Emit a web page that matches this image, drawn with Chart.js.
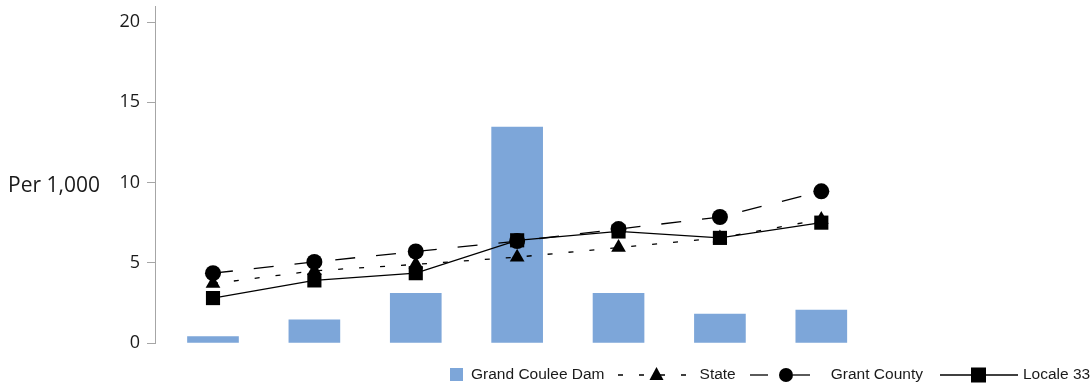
<!DOCTYPE html>
<html><head><meta charset="utf-8">
<script src="https://cdn.jsdelivr.net/npm/chart.js@4.4.1/dist/chart.umd.min.js"></script>
<style>
html,body{margin:0;padding:0;background:#fff;}
#wrap{position:relative;width:1090px;height:386px;overflow:hidden;}
#legend{position:absolute;left:450px;top:363px;height:22px;display:flex;align-items:center;font-family:"Liberation Sans",Arial,sans-serif;font-size:15.5px;color:#1a1a1a;white-space:nowrap;}
.item{display:flex;align-items:center;}
.item svg{display:block;}
</style></head><body>
<div id="wrap"><canvas id="c" width="1090" height="386"></canvas><div id="legend"></div></div>
<script>
// ---- data ----
const categories = ['1', '2', '3', '4', '5', '6', '7'];
const seriesNames = ['Grand Coulee Dam', 'State', 'Grant County', 'Locale 33'];
const grandCouleeDam = [0.4, 1.45, 3.1, 13.45, 3.1, 1.8, 2.05];
const state = [3.7, 4.5, 4.9, 5.35, 5.95, 6.55, 7.7];
const grantCounty = [4.35, 5.05, 5.7, 6.35, 7.1, 7.85, 9.45];
const locale33 = [2.8, 3.9, 4.35, 6.4, 6.95, 6.55, 7.5];
const yTicks = [0, 5, 10, 15, 20];
const yAxisLabel = 'Per 1,000';

const barColor = '#7DA6D9';
const toPts = vals => categories.map((c, i) => ({x: i, y: vals[i]}));

const axisLabelPlugin = {
  id: 'axisLabel',
  afterDraw(chart) {
    const c = chart.ctx;
    c.save();
    c.font = '21px "Open Sans", sans-serif';
    c.fillStyle = '#1a1a1a';
    c.textAlign = 'left';
    c.textBaseline = 'alphabetic';
    c.fillText(yAxisLabel, 8, 192);
    c.restore();
  }
};

const chart = new Chart(document.getElementById('c'), {
  type: 'bar',
  data: {
    datasets: [
      {type: 'bar', label: seriesNames[0], data: toPts(grandCouleeDam), backgroundColor: barColor,
       barThickness: 51, order: 4},
      {type: 'line', label: seriesNames[1], data: toPts(state), borderColor: '#000', borderWidth: 1.3,
       borderDash: [5, 16], pointStyle: 'triangle', pointRadius: 8.5, pointBackgroundColor: '#000',
       pointBorderColor: '#000', pointBorderWidth: 0, tension: 0, fill: false, order: 3},
      {type: 'line', label: seriesNames[2], data: toPts(grantCounty), borderColor: '#000', borderWidth: 1.3,
       borderDash: [20, 21], pointStyle: 'circle', pointRadius: 8, pointBackgroundColor: '#000',
       pointBorderColor: '#000', pointBorderWidth: 0, tension: 0, fill: false, order: 2},
      {type: 'line', label: seriesNames[3], data: toPts(locale33), borderColor: '#000', borderWidth: 1.3,
       pointStyle: 'rect', pointRadius: 10, pointBackgroundColor: '#000',
       pointBorderColor: '#000', pointBorderWidth: 0, tension: 0, fill: false, order: 1}
    ]
  },
  options: {
    responsive: false, animation: false, events: [],
    layout: {autoPadding: false, padding: {left: 0, right: 218, top: 6, bottom: 43}},
    plugins: {legend: {display: false}, tooltip: {enabled: false}},
    scales: {
      x: {type: 'linear', min: -0.572, max: 6.5, offset: false, display: false},
      y: {
        min: 0, max: 21,
        afterBuildTicks: s => { s.ticks = yTicks.map(v => ({value: v})); },
        afterFit: s => { s.width = 155; s.paddingTop = 0; s.paddingBottom = 0; },
        grid: {drawOnChartArea: false, drawTicks: true, tickLength: 8, color: '#A6A6A6', lineWidth: 1},
        border: {color: '#A6A6A6', width: 1},
        ticks: {padding: 7, color: '#1a1a1a', font: {family: '"Open Sans", sans-serif', size: 18}}
      }
    }
  },
  plugins: [axisLabelPlugin]
});

// ---- HTML legend built from datasets ----
const NS = 'http://www.w3.org/2000/svg';
function el(tag, attrs) { const e = document.createElementNS(NS, tag); for (const k in attrs) e.setAttribute(k, attrs[k]); return e; }
function makeSwatch(kind, ds) {
  let svg;
  if (kind === 'bar') {
    svg = el('svg', {width: 13, height: 13});
    svg.appendChild(el('rect', {x: 0, y: 0, width: 13, height: 13, fill: ds.backgroundColor}));
  } else if (kind === 'triangle') {
    svg = el('svg', {width: 80, height: 20});
    svg.appendChild(el('line', {x1: 7, y1: 11, x2: 80, y2: 11, stroke: '#000', 'stroke-width': 1.3, 'stroke-dasharray': '5 16'}));
    svg.appendChild(el('polygon', {points: '45.5,3 52.5,16 38.5,16', fill: '#000'}));
  } else if (kind === 'circle') {
    svg = el('svg', {width: 63, height: 20});
    svg.appendChild(el('line', {x1: 2, y1: 11, x2: 20, y2: 11, stroke: '#000', 'stroke-width': 1.3}));
    svg.appendChild(el('line', {x1: 45, y1: 11, x2: 62, y2: 11, stroke: '#000', 'stroke-width': 1.3}));
    svg.appendChild(el('circle', {cx: 38, cy: 11, r: 7, fill: '#000'}));
  } else {
    svg = el('svg', {width: 80, height: 20});
    svg.appendChild(el('line', {x1: 2, y1: 11, x2: 80, y2: 11, stroke: '#000', 'stroke-width': 1.3}));
    svg.appendChild(el('rect', {x: 33, y: 3.5, width: 15, height: 15, fill: '#000'}));
  }
  return svg;
}
const legend = document.getElementById('legend');
const kinds = ['bar', 'triangle', 'circle', 'rect'];
const gaps = [[0, 8], [6, 9], [12, 20], [15, 5]];
chart.data.datasets.forEach((ds, i) => {
  const item = document.createElement('div');
  item.className = 'item';
  item.style.marginLeft = gaps[i][0] + 'px';
  const sw = makeSwatch(kinds[i], ds);
  sw.style.marginRight = gaps[i][1] + 'px';
  item.appendChild(sw);
  const t = document.createElement('span');
  t.textContent = ds.label;
  item.appendChild(t);
  legend.appendChild(item);
});
</script>
</body></html>
